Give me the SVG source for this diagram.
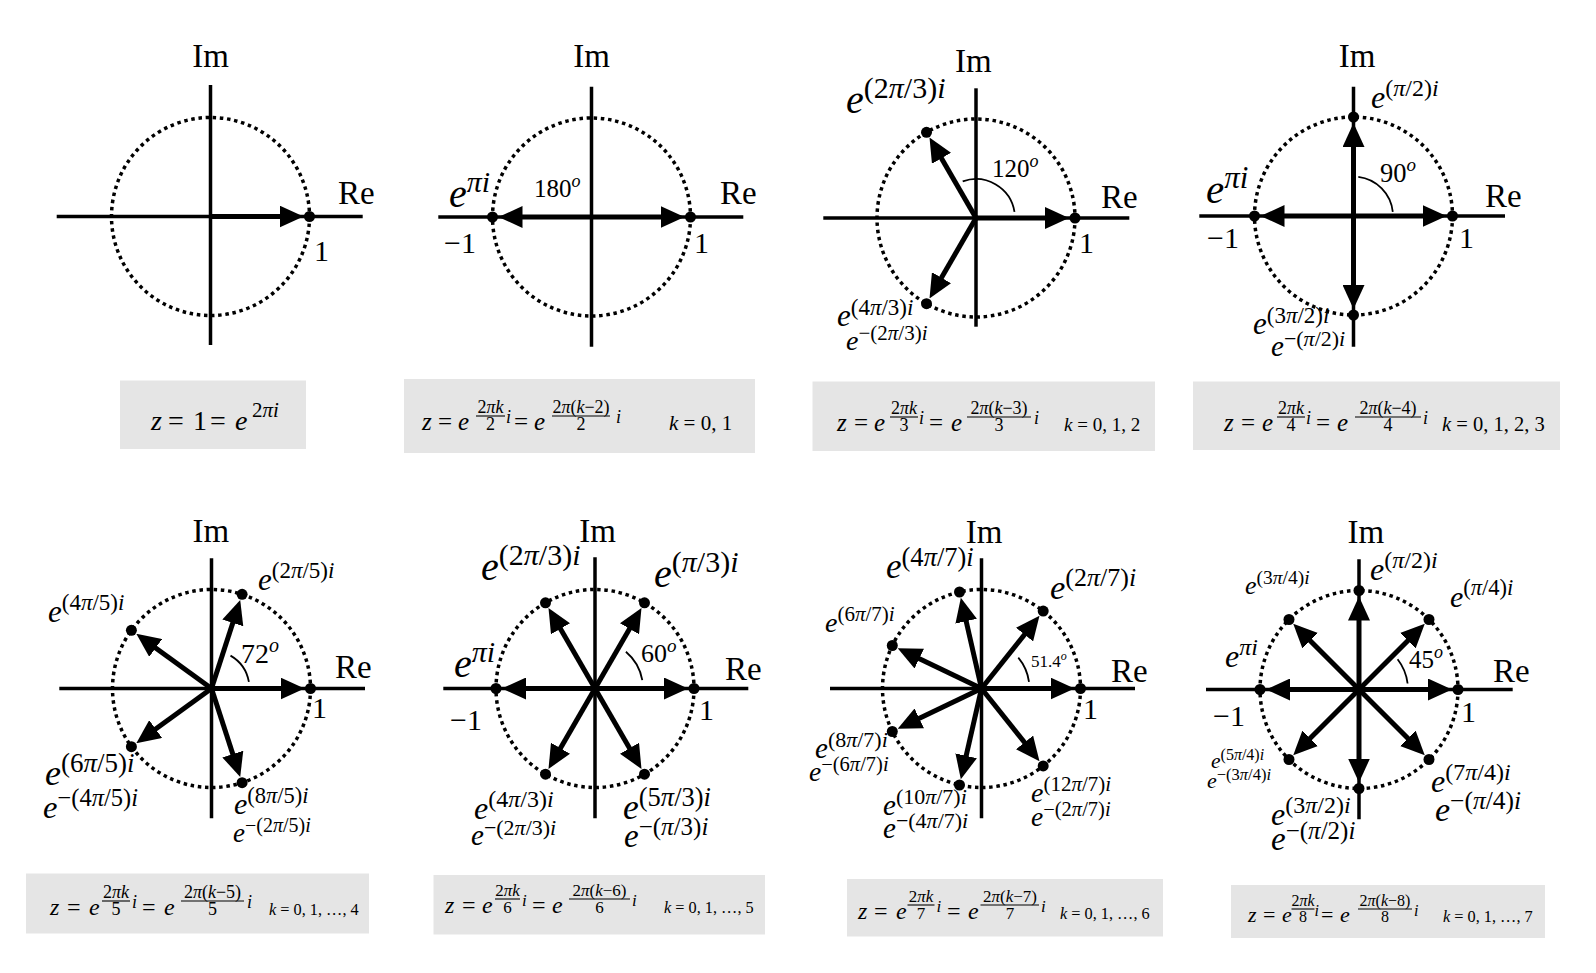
<svg xmlns="http://www.w3.org/2000/svg" width="1596" height="973" viewBox="0 0 1596 973">
<defs>
<style>
text { font-family: "Liberation Serif", "DejaVu Serif", serif; fill: #000; }
.ax { font-size: 33px; }
.dg { font-size: 30px; }
.i { font-style: italic; }
.axis { stroke: #000; stroke-width: 3.5; fill: none; }
.circ { fill: none; stroke: #000; stroke-width: 3.5; stroke-dasharray: 3.5 3.7; }
.arr { stroke: #000; stroke-width: 5; fill: none; marker-end: url(#ah); }
.dot { fill: #000; }
.ang { fill: none; stroke: #000; stroke-width: 1.8; }
.box { fill: #e5e5e5; }
.bar { stroke: #000; stroke-width: 1.1; }
.mid { text-anchor: middle; }
</style>
<marker id="ah" viewBox="0 -11 24 22" markerWidth="24" markerHeight="22" refX="12" refY="0" orient="auto" markerUnits="userSpaceOnUse"><path d="M0,-11 L24,0 L0,11 z" fill="#000"/></marker>
</defs>
<rect width="1596" height="973" fill="#fff"/>

<!-- Panel 1 -->
<g id="panel1">
<line class="axis" x1="210.5" y1="85" x2="210.5" y2="345"/>
<line class="axis" x1="56.7" y1="216.5" x2="362.7" y2="216.5"/>
<circle class="circ" cx="210.5" cy="216.5" r="99"/>
<g class="connectors">
<line class="arr" x1="210.5" y1="216.5" x2="291.5" y2="216.5"/>
</g>
<circle class="dot" cx="309.5" cy="216.5" r="5.5"/>
<text class="ax mid" x="210.5" y="66.7">Im</text>
<text class="ax" x="338" y="204">Re</text>
<text class="dg" x="314" y="261">1</text>
</g>

<!-- Panel 2 -->
<g id="panel2">
<line class="axis" x1="591.5" y1="86.7" x2="591.5" y2="346.7"/>
<line class="axis" x1="438.3" y1="217" x2="743.3" y2="217"/>
<circle class="circ" cx="591.5" cy="217" r="99"/>
<g class="connectors">
<line class="arr" x1="591.5" y1="217" x2="672.5" y2="217"/>
<line class="arr" x1="591.5" y1="217" x2="510.5" y2="217"/>
</g>
<circle class="dot" cx="690.5" cy="217" r="5.5"/>
<circle class="dot" cx="492.5" cy="217" r="5.5"/>
<text class="ax mid" x="591.5" y="66.7">Im</text>
<text class="ax" x="720" y="204">Re</text>
<text class="dg" x="694" y="252.7">1</text>
<text class="dg" x="444" y="252.7">−1</text>
<text x="449" y="207" font-size="40"><tspan class="i">e</tspan><tspan font-size="30" dy="-15"><tspan class="i">πi</tspan></tspan></text>
<text x="534" y="196.7" font-size="25">180<tspan class="i" font-size="18" dy="-10">o</tspan></text>
</g>

<!-- Panel 3 -->
<g id="panel3">
<line class="axis" x1="976" y1="88.3" x2="976" y2="326.7"/>
<line class="axis" x1="823.3" y1="218" x2="1129.3" y2="218"/>
<circle class="circ" cx="976" cy="218" r="99"/>
<path class="ang" d="M1014.5,211.9 A39,39 0 0 0 962.7,181.4"/>
<g class="connectors">
<line class="arr" x1="976" y1="218" x2="1057" y2="218"/>
<line class="arr" x1="976" y1="218" x2="935.5" y2="147.9"/>
<line class="arr" x1="976" y1="218" x2="935.5" y2="288.1"/>
</g>
<circle class="dot" cx="1075" cy="218" r="5.5"/>
<circle class="dot" cx="926.5" cy="132.3" r="5.5"/>
<circle class="dot" cx="926.5" cy="303.7" r="5.5"/>
<text class="ax mid" x="973.3" y="71.7">Im</text>
<text class="ax" x="1101" y="208.3">Re</text>
<text class="dg" x="1079" y="253.3">1</text>
<text x="846" y="113.3" font-size="40"><tspan class="i">e</tspan><tspan font-size="30" dy="-15">(2<tspan class="i">π</tspan>/3)<tspan class="i">i</tspan></tspan></text>
<text x="837" y="326" font-size="31"><tspan class="i">e</tspan><tspan font-size="23" dy="-11.5">(4<tspan class="i">π</tspan>/3)<tspan class="i">i</tspan></tspan></text>
<text x="846" y="350" font-size="28"><tspan class="i">e</tspan><tspan font-size="21" dy="-10">−(2<tspan class="i">π</tspan>/3)<tspan class="i">i</tspan></tspan></text>
<text x="992" y="176.7" font-size="25">120<tspan class="i" font-size="18" dy="-10">o</tspan></text>
</g>

<!-- Panel 4 -->
<g id="panel4">
<line class="axis" x1="1353.5" y1="86.7" x2="1353.5" y2="346.7"/>
<line class="axis" x1="1199.3" y1="216" x2="1505" y2="216"/>
<circle class="circ" cx="1353.5" cy="216" r="99"/>
<path class="ang" d="M1392.8,211.9 A39.5,39.5 0 0 0 1358.3,176.8"/>
<g class="connectors">
<line class="arr" x1="1353.5" y1="216" x2="1434.5" y2="216"/>
<line class="arr" x1="1353.5" y1="216" x2="1353.5" y2="135"/>
<line class="arr" x1="1353.5" y1="216" x2="1272.5" y2="216"/>
<line class="arr" x1="1353.5" y1="216" x2="1353.5" y2="297"/>
</g>
<circle class="dot" cx="1452.5" cy="216" r="5.5"/>
<circle class="dot" cx="1353.5" cy="117" r="5.5"/>
<circle class="dot" cx="1254.5" cy="216" r="5.5"/>
<circle class="dot" cx="1353.5" cy="315" r="5.5"/>
<text class="ax mid" x="1357" y="66.7">Im</text>
<text class="ax" x="1485" y="206.7">Re</text>
<text class="dg" x="1459" y="248.3">1</text>
<text class="dg" x="1207" y="248.3">−1</text>
<text x="1206" y="203.3" font-size="41"><tspan class="i">e</tspan><tspan font-size="31" dy="-15.5"><tspan class="i">πi</tspan></tspan></text>
<text x="1371" y="108.3" font-size="32"><tspan class="i">e</tspan><tspan font-size="24" dy="-12">(<tspan class="i">π</tspan>/2)<tspan class="i">i</tspan></tspan></text>
<text x="1253" y="334" font-size="31"><tspan class="i">e</tspan><tspan font-size="23" dy="-11.5">(3<tspan class="i">π</tspan>/2)<tspan class="i">i</tspan></tspan></text>
<text x="1271" y="356" font-size="29"><tspan class="i">e</tspan><tspan font-size="22" dy="-10.5">−(<tspan class="i">π</tspan>/2)<tspan class="i">i</tspan></tspan></text>
<text x="1380" y="181.7" font-size="26.5">90<tspan class="i" font-size="19" dy="-10.5">o</tspan></text>
</g>

<!-- Panel 5 -->
<g id="panel5">
<line class="axis" x1="211.5" y1="558.3" x2="211.5" y2="818.3"/>
<line class="axis" x1="59.3" y1="688.5" x2="365" y2="688.5"/>
<circle class="circ" cx="211.5" cy="688.5" r="99"/>
<path class="ang" d="M248.9,681.9 A38,38 0 0 0 230.5,655.6"/>
<g class="connectors">
<line class="arr" x1="211.5" y1="688.5" x2="292.5" y2="688.5"/>
<line class="arr" x1="211.5" y1="688.5" x2="236.5" y2="611.5"/>
<line class="arr" x1="211.5" y1="688.5" x2="146" y2="640.9"/>
<line class="arr" x1="211.5" y1="688.5" x2="146" y2="736.1"/>
<line class="arr" x1="211.5" y1="688.5" x2="236.5" y2="765.5"/>
</g>
<circle class="dot" cx="310.5" cy="688.5" r="5.5"/>
<circle class="dot" cx="242.1" cy="594.3" r="5.5"/>
<circle class="dot" cx="131.4" cy="630.3" r="5.5"/>
<circle class="dot" cx="131.4" cy="746.7" r="5.5"/>
<circle class="dot" cx="242.1" cy="782.7" r="5.5"/>
<text class="ax mid" x="210.8" y="541.7">Im</text>
<text class="ax" x="335" y="678.3">Re</text>
<text class="dg" x="312" y="718.3">1</text>
<text x="258" y="590" font-size="31"><tspan class="i">e</tspan><tspan font-size="23" dy="-12">(2<tspan class="i">π</tspan>/5)<tspan class="i">i</tspan></tspan></text>
<text x="48" y="621.7" font-size="31"><tspan class="i">e</tspan><tspan font-size="23" dy="-12">(4<tspan class="i">π</tspan>/5)<tspan class="i">i</tspan></tspan></text>
<text x="45" y="785" font-size="36"><tspan class="i">e</tspan><tspan font-size="27" dy="-13.5">(6<tspan class="i">π</tspan>/5)<tspan class="i">i</tspan></tspan></text>
<text x="43" y="818" font-size="32.5"><tspan class="i">e</tspan><tspan font-size="24.5" dy="-12">−(4<tspan class="i">π</tspan>/5)<tspan class="i">i</tspan></tspan></text>
<text x="234" y="814" font-size="30"><tspan class="i">e</tspan><tspan font-size="22.5" dy="-11">(8<tspan class="i">π</tspan>/5)<tspan class="i">i</tspan></tspan></text>
<text x="233" y="842" font-size="27"><tspan class="i">e</tspan><tspan font-size="20" dy="-10">−(2<tspan class="i">π</tspan>/5)<tspan class="i">i</tspan></tspan></text>
<text x="241" y="662.7" font-size="28">72<tspan class="i" font-size="20" dy="-11">o</tspan></text>
</g>

<!-- Panel 6 -->
<g id="panel6">
<line class="axis" x1="595" y1="557.3" x2="595" y2="818.3"/>
<line class="axis" x1="443.3" y1="688.5" x2="748.3" y2="688.5"/>
<circle class="circ" cx="595" cy="688.5" r="99"/>
<path class="ang" d="M642.3,680.2 A48,48 0 0 0 625.9,651.7"/>
<g class="connectors">
<line class="arr" x1="595" y1="688.5" x2="676" y2="688.5"/>
<line class="arr" x1="595" y1="688.5" x2="635.5" y2="618.4"/>
<line class="arr" x1="595" y1="688.5" x2="554.5" y2="618.4"/>
<line class="arr" x1="595" y1="688.5" x2="514" y2="688.5"/>
<line class="arr" x1="595" y1="688.5" x2="554.5" y2="758.6"/>
<line class="arr" x1="595" y1="688.5" x2="635.5" y2="758.6"/>
</g>
<circle class="dot" cx="694" cy="688.5" r="5.5"/>
<circle class="dot" cx="644.5" cy="602.8" r="5.5"/>
<circle class="dot" cx="545.5" cy="602.8" r="5.5"/>
<circle class="dot" cx="496" cy="688.5" r="5.5"/>
<circle class="dot" cx="545.5" cy="774.2" r="5.5"/>
<circle class="dot" cx="644.5" cy="774.2" r="5.5"/>
<text class="ax mid" x="597.5" y="541.7">Im</text>
<text class="ax" x="725" y="680">Re</text>
<text class="dg" x="699" y="720">1</text>
<text class="dg" x="450" y="730">−1</text>
<text x="481" y="580" font-size="40"><tspan class="i">e</tspan><tspan font-size="30" dy="-15">(2<tspan class="i">π</tspan>/3)<tspan class="i">i</tspan></tspan></text>
<text x="654" y="587.3" font-size="40"><tspan class="i">e</tspan><tspan font-size="30" dy="-15">(<tspan class="i">π</tspan>/3)<tspan class="i">i</tspan></tspan></text>
<text x="454" y="676.7" font-size="40"><tspan class="i">e</tspan><tspan font-size="30" dy="-15"><tspan class="i">πi</tspan></tspan></text>
<text x="474" y="819" font-size="32"><tspan class="i">e</tspan><tspan font-size="24" dy="-12">(4<tspan class="i">π</tspan>/3)<tspan class="i">i</tspan></tspan></text>
<text x="471" y="845" font-size="29"><tspan class="i">e</tspan><tspan font-size="22" dy="-10.5">−(2<tspan class="i">π</tspan>/3)<tspan class="i">i</tspan></tspan></text>
<text x="623" y="819" font-size="35.5"><tspan class="i">e</tspan><tspan font-size="26.5" dy="-13">(5<tspan class="i">π</tspan>/3)<tspan class="i">i</tspan></tspan></text>
<text x="624" y="847" font-size="33"><tspan class="i">e</tspan><tspan font-size="25" dy="-12">−(<tspan class="i">π</tspan>/3)<tspan class="i">i</tspan></tspan></text>
<text x="641" y="662.3" font-size="26">60<tspan class="i" font-size="19" dy="-10">o</tspan></text>
</g>

<!-- Panel 7 -->
<g id="panel7">
<line class="axis" x1="981.5" y1="558.3" x2="981.5" y2="818.3"/>
<line class="axis" x1="830" y1="688.5" x2="1135" y2="688.5"/>
<circle class="circ" cx="981.5" cy="688.5" r="99"/>
<path class="ang" d="M1029,681.8 A48,48 0 0 0 1018.3,657.6"/>
<g class="connectors">
<line class="arr" x1="981.5" y1="688.5" x2="1062.5" y2="688.5"/>
<line class="arr" x1="981.5" y1="688.5" x2="1032" y2="625.2"/>
<line class="arr" x1="981.5" y1="688.5" x2="963.5" y2="609.5"/>
<line class="arr" x1="981.5" y1="688.5" x2="908.5" y2="653.4"/>
<line class="arr" x1="981.5" y1="688.5" x2="908.5" y2="723.6"/>
<line class="arr" x1="981.5" y1="688.5" x2="963.5" y2="767.5"/>
<line class="arr" x1="981.5" y1="688.5" x2="1032" y2="751.8"/>
</g>
<circle class="dot" cx="1080.5" cy="688.5" r="5.5"/>
<circle class="dot" cx="1043.2" cy="611.1" r="5.5"/>
<circle class="dot" cx="959.5" cy="592" r="5.5"/>
<circle class="dot" cx="892.3" cy="645.5" r="5.5"/>
<circle class="dot" cx="892.3" cy="731.5" r="5.5"/>
<circle class="dot" cx="959.5" cy="785" r="5.5"/>
<circle class="dot" cx="1043.2" cy="765.9" r="5.5"/>
<text class="ax mid" x="984" y="542.7">Im</text>
<text class="ax" x="1111" y="681.7">Re</text>
<text class="dg" x="1083" y="719.3">1</text>
<text x="886" y="578" font-size="35"><tspan class="i">e</tspan><tspan font-size="26.5" dy="-12.5">(4<tspan class="i">π</tspan>/7)<tspan class="i">i</tspan></tspan></text>
<text x="1050" y="599.3" font-size="34.5"><tspan class="i">e</tspan><tspan font-size="26" dy="-13">(2<tspan class="i">π</tspan>/7)<tspan class="i">i</tspan></tspan></text>
<text x="825" y="631.7" font-size="28"><tspan class="i">e</tspan><tspan font-size="21" dy="-10.5">(6<tspan class="i">π</tspan>/7)<tspan class="i">i</tspan></tspan></text>
<text x="815" y="758.3" font-size="29"><tspan class="i">e</tspan><tspan font-size="22" dy="-11">(8<tspan class="i">π</tspan>/7)<tspan class="i">i</tspan></tspan></text>
<text x="809" y="781" font-size="27.5"><tspan class="i">e</tspan><tspan font-size="20.5" dy="-10">−(6<tspan class="i">π</tspan>/7)<tspan class="i">i</tspan></tspan></text>
<text x="883" y="815" font-size="29"><tspan class="i">e</tspan><tspan font-size="22" dy="-11">(10<tspan class="i">π</tspan>/7)<tspan class="i">i</tspan></tspan></text>
<text x="883" y="838" font-size="29"><tspan class="i">e</tspan><tspan font-size="22" dy="-10.5">−(4<tspan class="i">π</tspan>/7)<tspan class="i">i</tspan></tspan></text>
<text x="1031" y="801.7" font-size="28"><tspan class="i">e</tspan><tspan font-size="21" dy="-10.5">(12<tspan class="i">π</tspan>/7)<tspan class="i">i</tspan></tspan></text>
<text x="1031" y="826" font-size="27.5"><tspan class="i">e</tspan><tspan font-size="20.5" dy="-10">−(2<tspan class="i">π</tspan>/7)<tspan class="i">i</tspan></tspan></text>
<text x="1031" y="666.7" font-size="17">51.4<tspan class="i" font-size="12" dy="-6.5">o</tspan></text>
</g>

<!-- Panel 8 -->
<g id="panel8">
<line class="axis" x1="1359" y1="559.3" x2="1359" y2="819.3"/>
<line class="axis" x1="1206" y1="689.5" x2="1512.7" y2="689.5"/>
<circle class="circ" cx="1359" cy="689.5" r="99"/>
<path class="ang" d="M1407.6,683.5 A49,49 0 0 0 1397.6,659.3"/>
<g class="connectors">
<line class="arr" x1="1359" y1="689.5" x2="1440" y2="689.5"/>
<line class="arr" x1="1359" y1="689.5" x2="1416.3" y2="632.2"/>
<line class="arr" x1="1359" y1="689.5" x2="1359" y2="608.5"/>
<line class="arr" x1="1359" y1="689.5" x2="1301.7" y2="632.2"/>
<line class="arr" x1="1359" y1="689.5" x2="1278" y2="689.5"/>
<line class="arr" x1="1359" y1="689.5" x2="1301.7" y2="746.8"/>
<line class="arr" x1="1359" y1="689.5" x2="1359" y2="770.5"/>
<line class="arr" x1="1359" y1="689.5" x2="1416.3" y2="746.8"/>
</g>
<circle class="dot" cx="1458" cy="689.5" r="5.5"/>
<circle class="dot" cx="1429" cy="619.5" r="5.5"/>
<circle class="dot" cx="1359" cy="590.5" r="5.5"/>
<circle class="dot" cx="1289" cy="619.5" r="5.5"/>
<circle class="dot" cx="1260" cy="689.5" r="5.5"/>
<circle class="dot" cx="1289" cy="759.5" r="5.5"/>
<circle class="dot" cx="1359" cy="788.5" r="5.5"/>
<circle class="dot" cx="1429" cy="759.5" r="5.5"/>
<text class="ax mid" x="1365.8" y="543.3">Im</text>
<text class="ax" x="1493" y="681.7">Re</text>
<text class="dg" x="1461" y="721.7">1</text>
<text class="dg" x="1213" y="726">−1</text>
<text x="1370" y="580" font-size="32"><tspan class="i">e</tspan><tspan font-size="24" dy="-12">(<tspan class="i">π</tspan>/2)<tspan class="i">i</tspan></tspan></text>
<text x="1245" y="594" font-size="26"><tspan class="i">e</tspan><tspan font-size="19.5" dy="-10">(3<tspan class="i">π</tspan>/4)<tspan class="i">i</tspan></tspan></text>
<text x="1450" y="606.7" font-size="30"><tspan class="i">e</tspan><tspan font-size="22.5" dy="-11.5">(<tspan class="i">π</tspan>/4)<tspan class="i">i</tspan></tspan></text>
<text x="1225" y="666.7" font-size="32"><tspan class="i">e</tspan><tspan font-size="24" dy="-12"><tspan class="i">πi</tspan></tspan></text>
<text x="1211" y="768.3" font-size="21.5"><tspan class="i">e</tspan><tspan font-size="16" dy="-8">(5<tspan class="i">π</tspan>/4)<tspan class="i">i</tspan></tspan></text>
<text x="1207" y="787.5" font-size="22"><tspan class="i">e</tspan><tspan font-size="16.5" dy="-8">−(3<tspan class="i">π</tspan>/4)<tspan class="i">i</tspan></tspan></text>
<text x="1431" y="791.7" font-size="32"><tspan class="i">e</tspan><tspan font-size="24" dy="-12">(7<tspan class="i">π</tspan>/4)<tspan class="i">i</tspan></tspan></text>
<text x="1435" y="821" font-size="34"><tspan class="i">e</tspan><tspan font-size="25.5" dy="-12.5">−(<tspan class="i">π</tspan>/4)<tspan class="i">i</tspan></tspan></text>
<text x="1271" y="825" font-size="32"><tspan class="i">e</tspan><tspan font-size="24" dy="-12">(3<tspan class="i">π</tspan>/2)<tspan class="i">i</tspan></tspan></text>
<text x="1271" y="850" font-size="33"><tspan class="i">e</tspan><tspan font-size="25" dy="-11.5">−(<tspan class="i">π</tspan>/2)<tspan class="i">i</tspan></tspan></text>
<text x="1409" y="668.3" font-size="25">45<tspan class="i" font-size="18" dy="-10">o</tspan></text>
</g>

<!-- Formula boxes -->
<g id="box1">
<rect class="box" x="120" y="380.5" width="186" height="68.5"/>
<text class="i" x="151" y="430" font-size="28">z</text>
<text x="168" y="430" font-size="28">=</text>
<text x="193" y="430" font-size="28">1</text>
<text x="210" y="430" font-size="28">=</text>
<text class="i" x="235" y="430" font-size="28">e</text>
<text x="252" y="417" font-size="21">2<tspan class="i">πi</tspan></text>
</g>

<g id="box2">
<rect class="box" x="404" y="379" width="351" height="74"/>
<g font-size="25"><text class="i" x="422" y="430">z</text><text x="438" y="430">=</text><text class="i" x="458" y="430">e</text><text x="514" y="430">=</text><text class="i" x="534" y="430">e</text></g>
<g font-size="18">
<text class="mid" x="490.5" y="413">2<tspan class="i">πk</tspan></text>
<line class="bar" x1="476" y1="416" x2="505" y2="416"/>
<text class="mid" x="490.5" y="430">2</text>
<text class="i" x="506" y="423">i</text>
<text class="mid" x="581" y="413">2<tspan class="i">π</tspan>(<tspan class="i">k</tspan>−2)</text>
<line class="bar" x1="552" y1="416" x2="610" y2="416"/>
<text class="mid" x="581" y="430">2</text>
<text class="i" x="616" y="423">i</text>
</g>
<text x="669" y="430" font-size="21"><tspan class="i">k</tspan> = 0, 1</text>
</g>

<g id="box3">
<rect class="box" x="812.5" y="381.5" width="342.5" height="69.5"/>
<g font-size="25"><text class="i" x="837" y="431">z</text><text x="854" y="431">=</text><text class="i" x="874" y="431">e</text><text x="929" y="431">=</text><text class="i" x="951" y="431">e</text></g>
<g font-size="18">
<text class="mid" x="904" y="414">2<tspan class="i">πk</tspan></text>
<line class="bar" x1="890" y1="417" x2="918" y2="417"/>
<text class="mid" x="904" y="431">3</text>
<text class="i" x="919" y="424">i</text>
<text class="mid" x="999" y="414">2<tspan class="i">π</tspan>(<tspan class="i">k</tspan>−3)</text>
<line class="bar" x1="967" y1="417" x2="1031" y2="417"/>
<text class="mid" x="999" y="431">3</text>
<text class="i" x="1034" y="424">i</text>
</g>
<text x="1064" y="431" font-size="19"><tspan class="i">k</tspan> = 0, 1, 2</text>
</g>

<g id="box4">
<rect class="box" x="1193" y="381.5" width="367" height="68.5"/>
<g font-size="25"><text class="i" x="1224" y="431">z</text><text x="1241" y="431">=</text><text class="i" x="1262" y="431">e</text><text x="1316" y="431">=</text><text class="i" x="1337" y="431">e</text></g>
<g font-size="18">
<text class="mid" x="1291" y="414">2<tspan class="i">πk</tspan></text>
<line class="bar" x1="1277" y1="417" x2="1305" y2="417"/>
<text class="mid" x="1291" y="431">4</text>
<text class="i" x="1306" y="424">i</text>
<text class="mid" x="1388" y="414">2<tspan class="i">π</tspan>(<tspan class="i">k</tspan>−4)</text>
<line class="bar" x1="1355" y1="417" x2="1421" y2="417"/>
<text class="mid" x="1388" y="431">4</text>
<text class="i" x="1423" y="424">i</text>
</g>
<text x="1442" y="431" font-size="20.5"><tspan class="i">k</tspan> = 0, 1, 2, 3</text>
</g>

<g id="box5">
<rect class="box" x="26" y="873.5" width="343" height="60"/>
<g font-size="24"><text class="i" x="50" y="915">z</text><text x="67" y="915">=</text><text class="i" x="89" y="915">e</text><text x="142" y="915">=</text><text class="i" x="164" y="915">e</text></g>
<g font-size="18">
<text class="mid" x="116" y="898">2<tspan class="i">πk</tspan></text>
<line class="bar" x1="102" y1="901" x2="130" y2="901"/>
<text class="mid" x="116" y="915">5</text>
<text class="i" x="132" y="908">i</text>
<text class="mid" x="212.5" y="898">2<tspan class="i">π</tspan>(<tspan class="i">k</tspan>−5)</text>
<line class="bar" x1="181" y1="901" x2="244" y2="901"/>
<text class="mid" x="212.5" y="915">5</text>
<text class="i" x="247" y="908">i</text>
</g>
<text x="269" y="915" font-size="16.3"><tspan class="i">k</tspan> = 0, 1, …, 4</text>
</g>

<g id="box6">
<rect class="box" x="433.5" y="875" width="331.5" height="59.5"/>
<g font-size="24"><text class="i" x="445" y="913">z</text><text x="462" y="913">=</text><text class="i" x="482" y="913">e</text><text x="532" y="913">=</text><text class="i" x="552" y="913">e</text></g>
<g font-size="17">
<text class="mid" x="507.5" y="896">2<tspan class="i">πk</tspan></text>
<line class="bar" x1="495" y1="899" x2="520" y2="899"/>
<text class="mid" x="507.5" y="913">6</text>
<text class="i" x="522" y="906">i</text>
<text class="mid" x="599.5" y="896">2<tspan class="i">π</tspan>(<tspan class="i">k</tspan>−6)</text>
<line class="bar" x1="569" y1="899" x2="630" y2="899"/>
<text class="mid" x="599.5" y="913">6</text>
<text class="i" x="632" y="906">i</text>
</g>
<text x="664" y="913" font-size="16.3"><tspan class="i">k</tspan> = 0, 1, …, 5</text>
</g>

<g id="box7">
<rect class="box" x="847" y="879" width="316" height="57.5"/>
<g font-size="24"><text class="i" x="858" y="919">z</text><text x="874" y="919">=</text><text class="i" x="896" y="919">e</text><text x="947" y="919">=</text><text class="i" x="968" y="919">e</text></g>
<g font-size="17">
<text class="mid" x="921" y="902">2<tspan class="i">πk</tspan></text>
<line class="bar" x1="907.5" y1="905" x2="934.5" y2="905"/>
<text class="mid" x="921" y="919">7</text>
<text class="i" x="936.5" y="912">i</text>
<text class="mid" x="1010" y="902">2<tspan class="i">π</tspan>(<tspan class="i">k</tspan>−7)</text>
<line class="bar" x1="980.5" y1="905" x2="1039" y2="905"/>
<text class="mid" x="1010" y="919">7</text>
<text class="i" x="1041" y="912">i</text>
</g>
<text x="1060" y="919" font-size="16.3"><tspan class="i">k</tspan> = 0, 1, …, 6</text>
</g>

<g id="box8">
<rect class="box" x="1231" y="885" width="314" height="53"/>
<g font-size="22"><text class="i" x="1248" y="922">z</text><text x="1263" y="922">=</text><text class="i" x="1282" y="922">e</text><text x="1321" y="922">=</text><text class="i" x="1340" y="922">e</text></g>
<g font-size="16">
<text class="mid" x="1303" y="906">2<tspan class="i">πk</tspan></text>
<line class="bar" x1="1291.5" y1="909" x2="1314.5" y2="909"/>
<text class="mid" x="1303" y="922">8</text>
<text class="i" x="1314.5" y="915.5">i</text>
<text class="mid" x="1385" y="906">2<tspan class="i">π</tspan>(<tspan class="i">k</tspan>−8)</text>
<line class="bar" x1="1358" y1="909" x2="1412" y2="909"/>
<text class="mid" x="1385" y="922">8</text>
<text class="i" x="1414" y="915.5">i</text>
</g>
<text x="1443" y="922" font-size="16.3"><tspan class="i">k</tspan> = 0, 1, …, 7</text>
</g>
</svg>
